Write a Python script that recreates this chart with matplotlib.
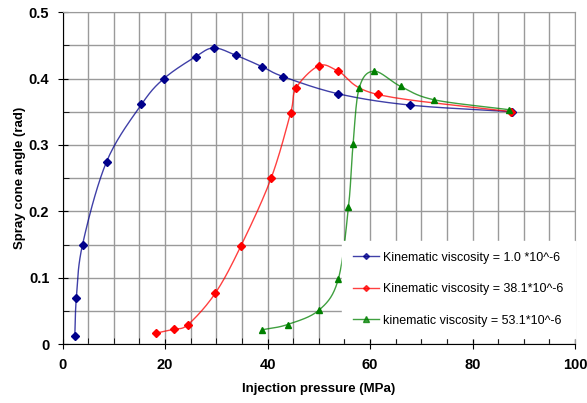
import numpy as np
import matplotlib.pyplot as plt
from matplotlib.ticker import MultipleLocator, FuncFormatter

# pressure (MPa) and spray cone angle (rad) for each viscosity
p_1 = [2.4, 2.7, 3.9, 8.6, 15.4, 19.8, 26.0, 29.5, 33.8, 38.9, 43.0, 53.8, 67.8, 87.8]
a_1 = [0.013, 0.070, 0.150, 0.275, 0.361, 0.400, 0.433, 0.446, 0.435, 0.418, 0.403, 0.377, 0.360, 0.350]

p_38 = [18.2, 21.7, 24.5, 29.8, 34.8, 40.7, 44.5, 45.6, 50.0, 53.8, 61.5, 87.6]
a_38 = [0.017, 0.023, 0.030, 0.077, 0.148, 0.250, 0.348, 0.386, 0.419, 0.411, 0.376, 0.350]

p_53 = [38.9, 43.9, 50.1, 53.8, 55.8, 56.7, 57.9, 60.8, 66.0, 72.5, 87.2]
a_53 = [0.022, 0.030, 0.052, 0.098, 0.207, 0.302, 0.386, 0.411, 0.388, 0.368, 0.353]

labels = ['Kinematic viscosity = 1.0 *10^-6',
          'Kinematic viscosity = 38.1*10^-6',
          'kinematic viscosity = 53.1*10^-6']


def smooth(x, y, n=20):
    # excel-style smoothed line (catmull-rom), done in axis-fraction space
    sx, sy = 100.0, 0.5 * 332 / 512
    px = np.array(x) / sx
    py = np.array(y) / sy
    px = np.concatenate([[2 * px[0] - px[1]], px, [2 * px[-1] - px[-2]]])
    py = np.concatenate([[2 * py[0] - py[1]], py, [2 * py[-1] - py[-2]]])
    t = np.linspace(0, 1, n)
    ox, oy = [], []
    for i in range(1, len(px) - 2):
        for arr, out in ((px, ox), (py, oy)):
            p0, p1, p2, p3 = arr[i - 1:i + 3]
            out.extend(0.5 * (2 * p1 + (-p0 + p2) * t + (2 * p0 - 5 * p1 + 4 * p2 - p3) * t ** 2
                              + (-p0 + 3 * p1 - 3 * p2 + p3) * t ** 3))
    return np.array(ox) * sx, np.array(oy) * sy


plt.rcParams['font.family'] = ['Liberation Sans', 'DejaVu Sans']

fig = plt.figure(figsize=(5.87, 4.03), dpi=100)
ax = fig.add_axes([0.1065, 0.1452, 0.8731, 0.825])

series = [(p_1, a_1, '#00008B', 'D', 4), (p_38, a_38, '#FF0000', 'D', 4), (p_53, a_53, '#008000', '^', 5)]
for (x, y, c, m, ms), lab in zip(series, labels):
    sx, sy = smooth(x, y)
    ax.plot(sx, sy, color=c, lw=1, alpha=0.75, zorder=3)
    ax.plot(x, y, linestyle='none', marker=m, ms=ms, color=c, zorder=4)
    ax.plot([], [], color=c, lw=1, alpha=0.75, marker=m, ms=ms - 1, label=lab)

ax.set_xlim(0, 100)
ax.set_ylim(0, 0.5)
ax.xaxis.set_major_locator(MultipleLocator(20))
ax.xaxis.set_minor_locator(MultipleLocator(5))
ax.yaxis.set_major_locator(MultipleLocator(0.1))
ax.yaxis.set_minor_locator(MultipleLocator(0.05))
ax.yaxis.set_major_formatter(FuncFormatter(lambda v, _: '0' if abs(v) < 1e-9 else f'{v:.1f}'))
ax.xaxis.set_major_formatter(FuncFormatter(lambda v, _: f'{v:.0f}'))

ax.grid(True, which='both', color='#9a9a9a', lw=1)
ax.set_axisbelow(True)
for s in ['top', 'right']:
    ax.spines[s].set_color('#9a9a9a')
for s in ['left', 'bottom']:
    ax.spines[s].set_color('black')

ax.tick_params(which='major', direction='inout', length=7, labelsize=10.5, pad=6)
ax.tick_params(which='minor', direction='in', length=4)
ax.tick_params(top=False, right=False, which='both')
for t in ax.get_xticklabels() + ax.get_yticklabels():
    t.set_fontweight('bold')

ax.set_xlabel('Injection pressure (MPa)', fontsize=9.5, fontweight='bold', labelpad=8)
ax.set_ylabel('Spray cone angle (rad)', fontsize=9.5, fontweight='bold', labelpad=2)

leg = ax.legend(loc='lower right', bbox_to_anchor=(1.0, 0.02), fontsize=9, frameon=True,
                fancybox=False, edgecolor='white', framealpha=1, borderaxespad=0,
                handlelength=2.1, handletextpad=0.35, labelspacing=1.55, borderpad=0.9)

fig.savefig('out.png', dpi=100)
